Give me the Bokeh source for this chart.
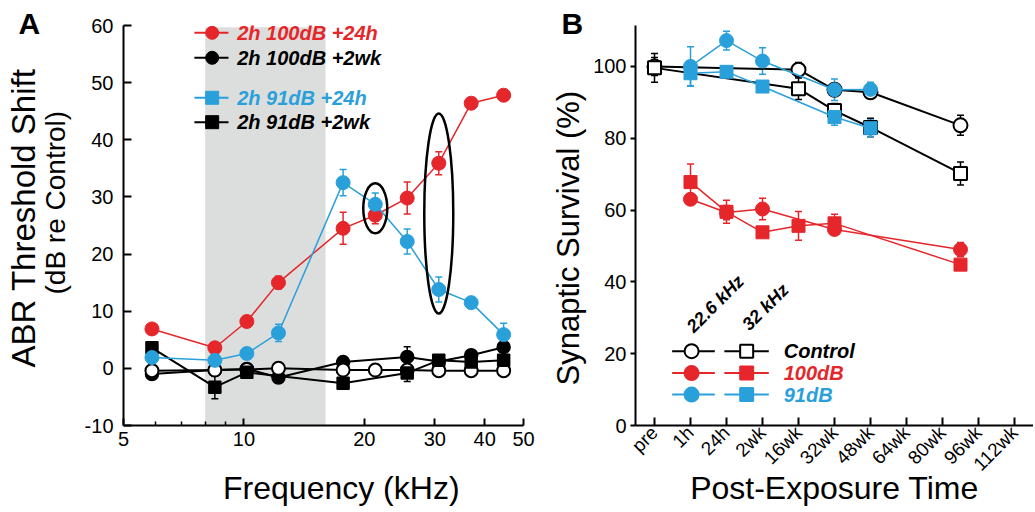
import math
from bokeh.plotting import figure
from bokeh.layouts import row
from bokeh.models import (ColumnDataSource, Whisker, TeeHead, BoxAnnotation, Title,
                          FixedTicker, NumeralTickFormatter)
from bokeh.core.properties import value
from bokeh.embed import file_html
from bokeh.resources import INLINE

FONT = "Liberation Sans"
RED = "#E5262B"
BLUE = "#2AA0DB"
BLACK = "#000000"

# ---------------- Panel A data (ABR threshold shift, dB re control) ----------------
freq_khz = [5.89, 8.46, 10.17, 12.2, 17.7, 21.3, 25.6, 30.7, 37.0, 44.6]
db100_24h = [6.9, 3.6, 8.2, 15.0, 24.5, 26.8, 29.8, 35.9, 46.4, 47.8]
db100_24h_err = [0.6, 0.6, 0.7, 1.1, 2.8, 1.5, 2.8, 2.0, 0.6, 0.6]
db91_24h = [1.9, 1.4, 2.6, 6.2, 32.5, 28.7, 22.2, 13.8, 11.5, 5.9]
db91_24h_err = [0.5, 0.5, 0.5, 1.5, 2.3, 2.0, 2.2, 2.2, 0.5, 2.0]
control_shift = [-0.4, -0.3, -0.2, 0.0, -0.3, -0.3, -0.3, -0.4, -0.4, -0.4]

freq_100_2wk = [5.89, 8.46, 10.17, 12.2, 17.7, 25.6, 30.7, 37.0, 44.6]
db100_2wk = [-1.0, -0.3, -0.1, -1.6, 1.1, 2.0, 1.2, 2.3, 3.7]
db100_2wk_err = [0.5, 0.5, 0.5, 0.5, 0.5, 1.8, 0.5, 0.5, 0.5]

freq_91_2wk = [5.89, 8.46, 10.17, 17.7, 25.6, 30.7, 37.0, 44.6]
db91_2wk = [3.6, -3.3, -0.7, -2.6, -0.8, 1.4, 1.1, 1.4]
db91_2wk_err = [0.5, 2.0, 0.5, 0.5, 1.5, 1.0, 0.5, 0.5]

noise_band_khz = [8, 16]
highlight_khz = [21.3, 30.7]
highlight_db = [28.0, 27.1]

a_x_ticks = [5, 10, 20, 30, 40, 50]
a_x_minor = [6, 7, 8, 9]
a_y_ticks = [-10, 0, 10, 20, 30, 40, 50, 60]

legend_a_labels = ["2h 100dB +24h", "2h 100dB +2wk", "2h 91dB +24h", "2h 91dB +2wk"]

# ---------------- Panel B data (synaptic survival, %) ----------------
time_labels = ["pre", "1h", "24h", "2wk", "16wk", "32wk", "48wk", "64wk", "80wk", "96wk", "112wk"]


def time_pos(label):
    if label in time_labels:
        return time_labels.index(label)
    wk = float(label.replace("wk", ""))
    return 4 + (wk - 16) / 16.0


ctrl_t = ["pre", "16wk", "32wk", "48wk", "88wk"]
ctrl_226 = [100.0, 99.1, 93.5, 92.8, 83.6]
ctrl_226_err = [2.5, 2.0, 1.5, 1.5, 2.8]
ctrl_32 = [99.6, 93.8, 87.7, 83.0, 70.2]
ctrl_32_err = [4.0, 3.0, 2.0, 2.6, 3.2]

d91_t = ["1h", "24h", "2wk", "32wk", "48wk"]
d91_226 = [100.0, 107.2, 101.5, 93.5, 93.6]
d91_226_err = [5.5, 2.6, 3.7, 3.0, 2.0]
d91_32 = [98.1, 98.5, 94.4, 85.9, 82.8]
d91_32_err = [3.5, 0.8, 0.8, 2.3, 2.3]

d100_226_t = ["1h", "24h", "2wk", "32wk", "88wk"]
d100_226 = [63.0, 59.3, 60.3, 54.6, 49.0]
d100_226_err = [0.8, 2.0, 3.0, 1.5, 2.0]
d100_32_t = ["1h", "24h", "2wk", "16wk", "32wk", "88wk"]
d100_32 = [67.8, 59.5, 53.8, 55.6, 56.3, 44.8]
d100_32_err = [5.0, 3.2, 1.0, 4.0, 2.5, 1.0]

b_y_ticks = [0, 20, 40, 60, 80, 100]
legend_b_groups = ["Control", "100dB", "91dB"]
legend_b_freqs = ["22.6 kHz", "32 kHz"]


def errbars(p, x, y, e, color, lw=1.5, head=7):
    src = ColumnDataSource(dict(x=x, lower=[a - b for a, b in zip(y, e)],
                                upper=[a + b for a, b in zip(y, e)]))
    w = Whisker(source=src, base="x", lower="lower", upper="upper", dimension="height",
                line_color=color, line_width=lw,
                upper_head=TeeHead(size=head, line_color=color, line_width=lw),
                lower_head=TeeHead(size=head, line_color=color, line_width=lw))
    p.add_layout(w)


def series(p, x, y, e, color, marker, fill, size, lw, mlw):
    errbars(p, x, y, e, color)
    p.line(x, y, line_color=color, line_width=lw)
    p.scatter(x, y, marker=marker, size=size, fill_color=fill, line_color=color, line_width=mlw)


def style_axes(p):
    p.xgrid.visible = False
    p.ygrid.visible = False
    p.outline_line_color = None
    for ax in (p.xaxis[0], p.yaxis[0]):
        ax.axis_line_width = 2
        ax.axis_line_color = BLACK
        ax.major_tick_line_width = 2
        ax.major_tick_line_color = BLACK
        ax.minor_tick_line_width = 1.5
        ax.major_label_text_font = FONT
        ax.major_label_text_color = BLACK
        ax.major_label_text_font_size = "20px"
        ax.axis_label_text_font = FONT
        ax.axis_label_text_font_style = "normal"
        ax.axis_label_text_color = BLACK


def side_title(p, text, size, side, offset, standoff):
    p.add_layout(Title(text=text, text_font=FONT, text_font_size=size, text_font_style="normal",
                       text_color=BLACK, align="left", offset=offset, standoff=standoff,
                       vertical_align="middle"), side)


def panel_letter(p, text, offset, standoff):
    p.title.text = text
    p.title.text_font = FONT
    p.title.text_font_size = "30px"
    p.title.text_font_style = "bold"
    p.title.text_color = BLACK
    p.title.align = "left"
    p.title.offset = offset
    p.title.standoff = standoff
    p.title.vertical_align = "middle"


# ================= Panel A =================
pA = figure(width=540, height=510, x_axis_type="log", x_range=(5, 50), y_range=(-10, 60),
            output_backend="svg", toolbar_location=None, title="A",
            min_border_left=123, min_border_right=17, min_border_top=25, min_border_bottom=85)
style_axes(pA)
panel_letter(pA, "A", -105, -30)
pA.add_layout(BoxAnnotation(left=noise_band_khz[0], right=noise_band_khz[1], top=59.7,
                            fill_color="#DCDEDD", fill_alpha=1.0, line_color=None, level="underlay"))
pA.xaxis.ticker = FixedTicker(ticks=a_x_ticks, minor_ticks=a_x_minor)
pA.xaxis.formatter = NumeralTickFormatter(format="0")
pA.xaxis.major_tick_in = 7
pA.xaxis.major_tick_out = 0
pA.xaxis.minor_tick_in = 4
pA.xaxis.minor_tick_out = 0
pA.xaxis.major_label_standoff = 6
pA.xaxis.axis_label = "\u00a0\u00a0\u00a0\u00a0Frequency (kHz)"
pA.xaxis.axis_label_text_font_size = "32px"
pA.xaxis.axis_label_standoff = 21
pA.yaxis.ticker = FixedTicker(ticks=a_y_ticks)
pA.yaxis.formatter = NumeralTickFormatter(format="0")
pA.yaxis.major_tick_in = 8
pA.yaxis.major_tick_out = 0
pA.yaxis.minor_tick_in = 0
pA.yaxis.minor_tick_out = 0
pA.yaxis.major_label_standoff = 10
side_title(pA, "(dB re Control)", "28px", "left", 131, 19)
side_title(pA, "ABR Threshold Shift", "33px", "left", 58, -27)

series(pA, freq_100_2wk, db100_2wk, db100_2wk_err, BLACK, "circle", BLACK, 13, 2, 1.5)
series(pA, freq_khz, control_shift, [0.3] * len(freq_khz), BLACK, "circle", "white", 13, 2, 2)
series(pA, freq_91_2wk, db91_2wk, db91_2wk_err, BLACK, "square", BLACK, 12, 2, 1.5)
series(pA, freq_khz, db100_24h, db100_24h_err, RED, "circle", RED, 14, 1.5, 1)
series(pA, freq_khz, db91_24h, db91_24h_err, BLUE, "circle", BLUE, 14, 1.5, 1)

pA.ellipse(x=highlight_khz, y=highlight_db, width=[24, 29], height=[50, 200],
           width_units="screen", height_units="screen",
           fill_color=None, line_color=BLACK, line_width=2.5)

# legend A (positions in data coordinates)
leg_a_y = [58.72, 54.35, 47.35, 43.08]
leg_a_cols = [RED, BLACK, BLUE, BLACK]
leg_a_markers = ["circle", "circle", "square", "square"]
for yy, c, m, lab in zip(leg_a_y, leg_a_cols, leg_a_markers, legend_a_labels):
    pA.line([7.52, 9.15], [yy, yy], line_color=c, line_width=2)
    pA.scatter([8.33], [yy], marker=m, size=13, fill_color=c, line_color=c)
    pA.text([9.62], [yy], text=[lab], text_color=c, text_font=value(FONT),
            text_font_style="bold italic", text_font_size="20px", text_baseline="middle")

# ================= Panel B =================
pB = figure(width=493, height=510, x_range=(-0.528, 10.528), y_range=(0, 111.4),
            output_backend="svg", toolbar_location=None, title="B",
            min_border_left=95, min_border_right=0, min_border_top=25, min_border_bottom=85)
style_axes(pB)
panel_letter(pB, "B", -74, -30)
pB.xaxis.ticker = FixedTicker(ticks=list(range(len(time_labels))))
pB.xaxis.major_label_overrides = {i: t for i, t in enumerate(time_labels)}
pB.xaxis.major_label_orientation = math.pi / 4
pB.xaxis.major_label_text_font_size = "19px"
pB.xaxis.major_tick_in = 8
pB.xaxis.major_tick_out = 0
pB.xaxis.minor_tick_in = 0
pB.xaxis.minor_tick_out = 0
pB.xaxis.major_label_standoff = 4
pB.xaxis.axis_label = "Post-Exposure Time"
pB.xaxis.axis_label_text_font_size = "32px"
pB.xaxis.axis_label_standoff = -15
pB.yaxis.ticker = FixedTicker(ticks=b_y_ticks)
pB.yaxis.major_tick_in = 0
pB.yaxis.major_tick_out = 5
pB.yaxis.minor_tick_in = 0
pB.yaxis.minor_tick_out = 0
pB.yaxis.major_label_standoff = 4
side_title(pB, "Synaptic Survival (%)", "31px", "left", 40, 7)

tp = lambda labels: [time_pos(t) for t in labels]
series(pB, tp(ctrl_t), ctrl_226, ctrl_226_err, BLACK, "circle", "white", 14, 2, 2)
series(pB, tp(ctrl_t), ctrl_32, ctrl_32_err, BLACK, "square", "white", 13, 2, 2)
series(pB, tp(d100_226_t), d100_226, d100_226_err, RED, "circle", RED, 14, 1.5, 1)
series(pB, tp(d100_32_t), d100_32, d100_32_err, RED, "square", RED, 13, 1.5, 1)
series(pB, tp(d91_t), d91_32, d91_32_err, BLUE, "square", BLUE, 13, 1.5, 1)
series(pB, tp(d91_t), d91_226, d91_226_err, BLUE, "circle", BLUE, 14, 1.5, 1)

# legend B (positions in data coordinates)
leg_b_y = [20.7, 14.6, 8.6]
leg_b_cols = [BLACK, RED, BLUE]
leg_b_fill = ["white", RED, BLUE]
for yy, c, f, lab in zip(leg_b_y, leg_b_cols, leg_b_fill, legend_b_groups):
    pB.line([0.49, 1.675], [yy, yy], line_color=c, line_width=2)
    pB.line([1.94, 3.175], [yy, yy], line_color=c, line_width=2)
    pB.scatter([1.03], [yy], marker="circle", size=14, fill_color=f, line_color=c, line_width=2)
    pB.scatter([2.56], [yy], marker="square", size=13, fill_color=f, line_color=c, line_width=2)
    pB.text([3.59], [yy], text=[lab], text_color=c, text_font=value(FONT),
            text_font_style="bold italic", text_font_size="20px", text_baseline="middle")
pB.text([1.69, 3.08], [33.9, 33.0], text=legend_b_freqs, angle=math.pi / 4,
        text_color=BLACK, text_font=value(FONT), text_font_style="bold italic",
        text_font_size="18px", text_align="center", text_baseline="middle")

layout = row(pA, pB)
open("out.html", "w").write(file_html(layout, INLINE))
